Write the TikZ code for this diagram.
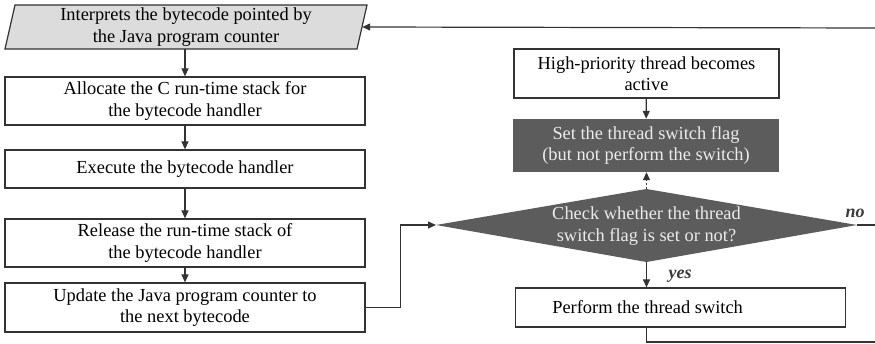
\documentclass[tikz,border=0pt]{standalone}
\usepackage{fontspec}
\setmainfont{Liberation Serif}
\usetikzlibrary{arrows.meta}
\definecolor{lineclr}{HTML}{333333}
\definecolor{darkfill}{HTML}{5C5C5C}
\definecolor{lightfill}{HTML}{DCDCDC}
\definecolor{lbl}{HTML}{3A3A3A}
\tikzset{
  x=1pt, y=-1pt,
  every node/.style={font=\fontsize{18.4}{21.5}\selectfont, align=center, inner sep=0pt},
  box/.style={draw=lineclr, line width=1.2pt, fill=white, minimum width=360pt},
  darkbox/.style={fill=darkfill, text=white!92!black, minimum width=266pt, minimum height=53pt},
  conn/.style={draw=lineclr, line width=1.2pt},
  arr/.style={conn, -{Triangle[length=8pt,width=7pt]}},
  tag/.style={font=\fontsize{18}{20}\selectfont\bfseries\itshape, text=lbl}
}
\begin{document}
\begin{tikzpicture}
\useasboundingbox (0,0) rectangle (875,344);
% parallelogram
\draw[draw=lineclr, line width=1.2pt, fill=lightfill] (5,49) -- (15,5) -- (367,5) -- (357,49) -- cycle;
\node[minimum width=352pt, minimum height=44pt] (interp) at (186,27) {Interprets the bytecode pointed by\\the Java program counter};
% left column
\node[box, minimum height=48pt] (alloc) at (185,101) {Allocate the C run-time stack for\\the bytecode handler};
\node[box, minimum height=38pt] (exec) at (185,169) {Execute the bytecode handler};
\node[box, minimum height=48pt] (release) at (185,243) {Release the run-time stack of\\the bytecode handler};
\node[box, minimum height=49pt] (update) at (185,307.5) {Update the Java program counter to\\the next bytecode};
% right column
\node[box, minimum width=265pt, minimum height=49pt] (high) at (646.5,73.5) {High-priority thread becomes\\active};
\node[darkbox] (flag) at (646,145.5) {Set the thread switch flag\\(but not perform the switch)};
\coordinate (dl) at (436,225);
\coordinate (dt) at (646.5,189);
\coordinate (dr) at (857,225);
\coordinate (db) at (646.5,262);
\fill[darkfill] (dl) -- (dt) -- (dr) -- (db) -- cycle;
\node[text=white!92!black] (check) at (646.5,226) {Check whether the thread\\switch flag is set or not?};
\node[box, minimum width=330pt, minimum height=39pt, anchor=west] (perform) at (515,307.5) {Perform the thread switch\hspace*{66pt}};
\coordinate (noend) at (875,225);
\coordinate (backstart) at (875,28);
\coordinate (botend) at (875,342);
% connectors
\draw[arr] (interp.south -| alloc.north) -- (alloc.north);
\draw[arr] (alloc) -- (exec);
\draw[arr] (exec) -- (release);
\draw[arr] (release) -- (update);
\draw[arr] (update.east) -- ++(35,0) |- (dl);
\draw[arr] (high) -- (flag);
\draw[arr, dash pattern=on 2pt off 2pt] (dt) -- (flag.south -| dt);
\draw[arr] (db) -- (db |- perform.north);
\draw[conn] (dr) -- (noend);
\draw[arr] (backstart) -- (interp.east);
\draw[conn] (perform.south -| db) -- (db |- botend) -- (botend);
% labels
\node[tag] (no) at (855,213) {no};
\node[tag] (yes) at (680,276) {yes};
\end{tikzpicture}
\end{document}
